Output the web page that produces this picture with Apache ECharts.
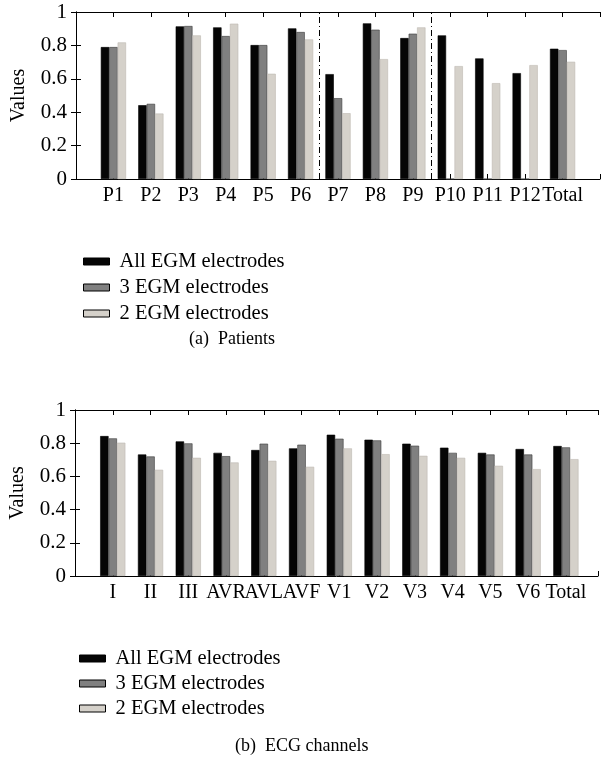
<!DOCTYPE html>
<html><head><meta charset="utf-8">
<script src="https://cdn.jsdelivr.net/npm/echarts@6/dist/echarts.min.js"></script>
<style>html,body{margin:0;padding:0;background:#fff}#c{width:603px;height:757px}</style>
</head><body><div id="c"></div>
<script>
const seriesNames = ['All EGM electrodes', '3 EGM electrodes', '2 EGM electrodes'];
const patientCats = ['P1','P2','P3','P4','P5','P6','P7','P8','P9','P10','P11','P12','Total'];
const patientAll   = [0.79,0.442,0.914,0.908,0.802,0.902,0.628,0.932,0.844,0.86,0.722,0.634,0.78];
const patient3     = [0.79,0.45,0.916,0.856,0.802,0.88,0.484,0.894,0.87,0,0,0,0.772];
const patient2     = [0.818,0.392,0.86,0.93,0.63,0.836,0.394,0.718,0.908,0.676,0.574,0.682,0.702];
const groupDividers = [6.5, 9.5];
const ecgCats = ['I','II','III','AVR','AVL','AVF','V1','V2','V3','V4','V5','V6','Total'];
const ecgAll = [0.843,0.732,0.811,0.742,0.759,0.769,0.851,0.821,0.797,0.773,0.742,0.765,0.783];
const ecg3   = [0.829,0.72,0.799,0.722,0.797,0.791,0.827,0.817,0.785,0.742,0.732,0.732,0.775];
const ecg2   = [0.803,0.64,0.712,0.684,0.694,0.658,0.769,0.734,0.724,0.712,0.664,0.644,0.704];
const yTicks = [0, 0.2, 0.4, 0.6, 0.8, 1];

const FONT = '"Liberation Serif","DejaVu Serif",serif';
const colors = ['#050505', '#808080', '#d5d1ca'];
const borders = ['#000', '#3a3a3a', '#bdb9b2'];

function toPairs(arr){ return arr.map((v,i)=>[i+1, v]); }
function xAxes(grid, max, cats){
  const common = {type:'value', gridIndex:grid, min:0, max:max, interval:1,
    axisLine:{show:true, onZero:false, lineStyle:{color:'#000', width:1}},
    axisTick:{show:true, inside:true, length:5, lineStyle:{color:'#000'}},
    splitLine:{show:false}};
  return [
    Object.assign({}, common, {position:'bottom',
      axisLabel:{show:true, margin:7, color:'#000', fontFamily:FONT, fontSize:20,
        showMinLabel:true, showMaxLabel:true,
        formatter:v => (Number.isInteger(v) && cats[v-1]) ? cats[v-1] : ''}}),
    Object.assign({}, common, {position:'top', axisLabel:{show:false}})
  ];
}
function yAxes(grid){
  const common = {type:'value', gridIndex:grid, min:0, max:1, interval:0.2,
    axisLine:{show:true, lineStyle:{color:'#000', width:1}},
    axisTick:{show:true, inside:true, length:5, lineStyle:{color:'#000'}},
    splitLine:{show:false}};
  return [
    Object.assign({}, common, {position:'left', name:'Values', nameLocation:'middle',
      nameGap:47, nameRotate:90, nameTextStyle:{color:'#000', fontFamily:FONT, fontSize:20},
      axisLabel:{show:true, margin:9, color:'#000', fontFamily:FONT, fontSize:21,
        formatter:v => String(+v.toFixed(1))}}),
    Object.assign({}, common, {position:'right', axisLabel:{show:false}})
  ];
}
function bars(xi, yi, datasets, markLines){
  return datasets.map((d,k)=>{
    const s = {name:seriesNames[k], type:'bar', xAxisIndex:xi, yAxisIndex:yi,
      data:toPairs(d), barWidth:8.4, barGap:'0%',
      itemStyle:{color:colors[k], borderColor:borders[k], borderWidth:0.6},
      emphasis:{disabled:true}};
    if (k===1 && markLines){
      s.markLine = {silent:true, symbol:['none','none'], label:{show:false},
        lineStyle:{color:'#000', width:1, type:[6,3,1,3]},
        data: markLines.map(x=>({xAxis:x}))};
    }
    return s;
  });
}
const legendCommon = {orient:'vertical', itemWidth:26, itemHeight:7, itemGap:5,
  icon:'rect', selectedMode:false,
  itemStyle:{borderColor:'#000', borderWidth:1},
  textStyle:{color:'#000', fontFamily:FONT, fontSize:20.5, lineHeight:21, padding:[0,0,0,5]},
  data:seriesNames};

const chart = echarts.init(document.getElementById('c'), null, {renderer:'canvas'});
chart.setOption({
  animation:false,
  backgroundColor:'#fff',
  title:[
    {text:'(a)  Patients', left:184, top:325, textStyle:{color:'#000', fontFamily:FONT, fontSize:18, fontWeight:'normal'}},
    {text:'(b)  ECG channels', left:230, top:732, textStyle:{color:'#000', fontFamily:FONT, fontSize:18, fontWeight:'normal'}}
  ],
  legend:[
    Object.assign({}, legendCommon, {left:78, top:246}),
    Object.assign({}, legendCommon, {left:74, top:643, itemGap:4})
  ],
  grid:[
    {left:76, top:12, width:528, height:167},
    {left:73, top:410, width:525, height:166}
  ],
  xAxis:[...xAxes(0, 14, patientCats), ...xAxes(1, 13.85, ecgCats)],
  yAxis:[...yAxes(0), ...yAxes(1)],
  series:[
    ...bars(0, 0, [patientAll, patient3, patient2], groupDividers),
    ...bars(2, 2, [ecgAll, ecg3, ecg2], null)
  ]
});
</script></body></html>
